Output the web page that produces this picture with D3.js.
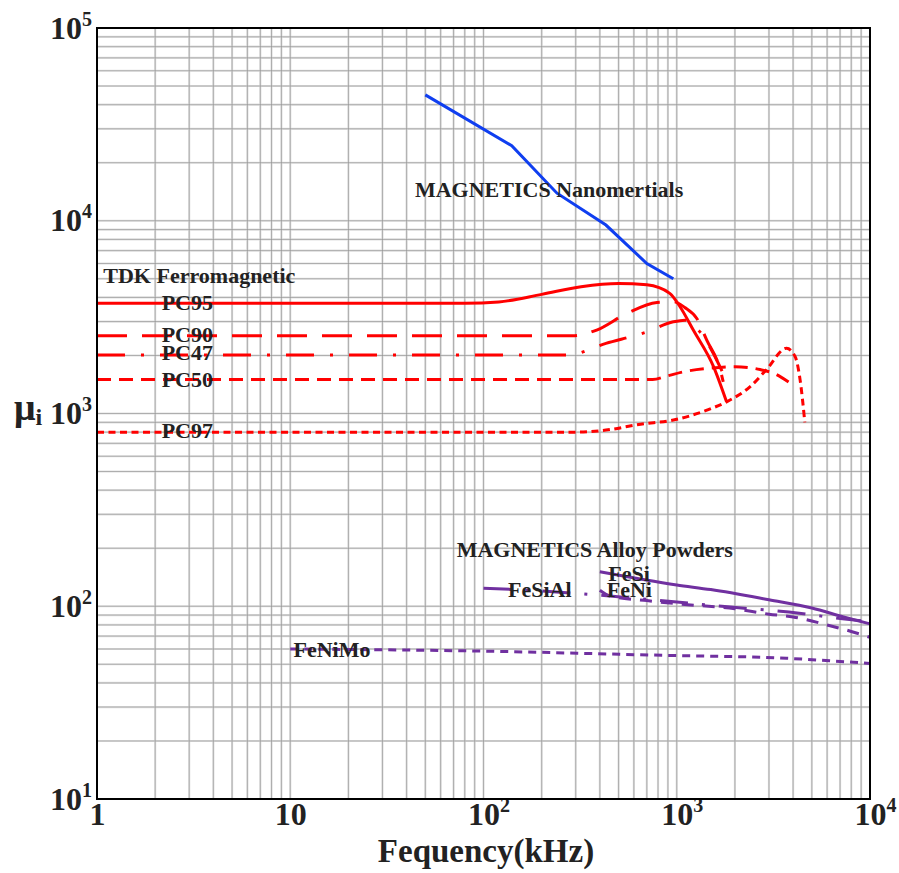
<!DOCTYPE html>
<html>
<head>
<meta charset="utf-8">
<script src="https://cdn.jsdelivr.net/npm/d3@7"></script>
<style>
body{margin:0;background:#fff;}
.gridHalo{stroke:#e0e0e0;stroke-width:2.2;}
.gridLine{stroke:#8c8c8c;stroke-width:0.6;}
.frame{fill:none;stroke:#000;stroke-width:2;}
.curve{fill:none;stroke-width:3;}
.label{font-family:"Liberation Serif","Times New Roman",serif;font-weight:bold;fill:#222;}
</style>
</head>
<body>
<script>
(function(){

//tick values of the two log axes
var xTicks = [1, 10, 100, 1000, 10000];
var yTicks = [10, 100, 1000, 10000, 100000];

//[frequency kHz, initial permeability]
var nanoMu = [[50,45000],[140,24500],[240,13900],[430,9500],[700,6000],[960,5000]];

//TDK ferrites
var pc95 = [[1,3730],[80,3730],[120,3790],[200,4150],[320,4550],[500,4730],[700,4650],[920,4200],[1040,3580],[1220,2700],[1550,1750],[1810,1150]];
var pc90 = [[1,2530],[290,2530],[385,2710],[550,3300],[790,3770],[960,3800],[1100,3550],[1270,3110],[1430,2400],[1680,1680],[1740,1460]];
var pc47 = [[1,2010],[270,2010],[430,2310],[700,2650],[960,2990],[1100,3050],[1250,2800],[1400,2450],[1550,2040],[1770,1550]];
var pc50 = [[1,1500],[750,1500],[900,1570],[1100,1650],[1500,1720],[2000,1750],[2700,1690],[3200,1610],[3850,1440]];
var pc97 = [[1,800],[290,800],[430,820],[650,880],[960,925],[1430,1040],[1810,1150],[2400,1380],[2900,1680],[3700,2180],[4100,1970],[4350,1490],[4600,900]];

//MAGNETICS alloy powders
var feSi = [[400,151],[1000,129],[1500,122],[3000,108],[5000,98],[7300,88],[10000,81]];
var feSiAl = [[100,124],[200,120],[360,115],[750,108],[1900,99],[4300,92],[7200,86],[9000,84]];
var feNi = [[400,121],[450,113],[700,107],[1000,103],[2000,97],[3000,91],[4000,88],[6000,80],[8000,74],[10000,69]];
var feNiMo = [[10,60],[100,58.5],[750,55.8],[3700,53.7],[10000,50.5]];

//annotation texts and the data point where each one starts
var labelTexts = ["MAGNETICS Nanomertials", "TDK Ferromagnetic", "PC95", "PC90", "PC47", "PC50", "PC97",
                  "MAGNETICS Alloy Powders", "FeSi", "FeSiAl", "FeNi", "FeNiMo"];
var labelAt = [[44.2,13280],[1.078,4775],[2.16,3444],[2.16,2358],[2.16,1895],[2.16,1377],[2.16,743],
               [72.6,180.7],[442,135.7],[134,112],[434,112],[10.4,54.3]];

window.onload = setChart();

function setChart(){
    //frame of the plot
    var width = 899,
        height = 873,
        plotLeft = 97,
        plotRight = 870,
        plotTop = 28,
        plotBottom = 799;

    var svg = d3.select("body")
        .append("svg")
        .attr("width", width)
        .attr("height", height);

    var x = d3.scaleLog()
        .domain([1, 10000])
        .range([plotLeft, plotRight]);
    var y = d3.scaleLog()
        .domain([10, 100000])
        .range([plotBottom, plotTop]);

    setGrid(svg, x, y);

    var line = d3.line()
        .x(function(d){ return x(d[0]); })
        .y(function(d){ return y(d[1]); })
        .curve(d3.curveMonotoneX);

    //blue nanocrystalline curve is a plain polyline
    svg.append("path")
        .datum(nanoMu)
        .attr("class", "curve")
        .attr("stroke", "#0f3ef0")
        .attr("d", line.curve(d3.curveLinear));
    line.curve(d3.curveMonotoneX);

    var curves = [
        {data: pc95, color: "#ff0000", dash: null},
        {data: pc90, color: "#ff0000", dash: "30,15"},
        {data: pc47, color: "#ff0000", dash: "28,16,3,16"},
        {data: pc50, color: "#ff0000", dash: "14,8"},
        {data: pc97, color: "#ff0000", dash: "7,4.5"},
        {data: feSi, color: "#7030a0", dash: null},
        {data: feSiAl, color: "#7030a0", dash: "28,14,3,14"},
        {data: feNi, color: "#7030a0", dash: "12,9"},
        {data: feNiMo, color: "#7030a0", dash: "8,6"}
    ];

    svg.selectAll(".series")
        .data(curves)
        .enter()
        .append("path")
        .attr("class", "curve series")
        .attr("stroke", function(d){ return d.color; })
        .attr("stroke-dasharray", function(d){ return d.dash; })
        .attr("d", function(d){ return line(d.data); });

    //annotations sit on top of the curves
    svg.selectAll(".note")
        .data(labelTexts)
        .enter()
        .append("text")
        .attr("class", "label note")
        .attr("font-size", 22)
        .attr("x", function(d, i){ return x(labelAt[i][0]); })
        .attr("y", function(d, i){ return y(labelAt[i][1]); })
        .text(function(d){ return d; });

    setAxes(svg, x, y, plotBottom, plotLeft);

    //plot border
    svg.append("rect")
        .attr("class", "frame")
        .attr("x", plotLeft)
        .attr("y", plotTop)
        .attr("width", plotRight - plotLeft)
        .attr("height", plotBottom - plotTop);
};

function setGrid(svg, x, y){
    //1..9 times every decade
    var xGrid = [], yGrid = [];
    for (var k=0; k<4; k++){
        for (var m=1; m<10; m++){
            if (k>0 || m>1) xGrid.push(m * Math.pow(10, k));
        }
    }
    for (var k=1; k<5; k++){
        for (var m=1; m<10; m++){
            if (k>1 || m>1) yGrid.push(m * Math.pow(10, k));
        }
    }
    ["gridHalo", "gridLine"].forEach(function(cls){
        svg.selectAll("." + cls + "X")
            .data(xGrid)
            .enter()
            .append("line")
            .attr("class", cls + " " + cls + "X")
            .attr("x1", function(d){ return x(d); })
            .attr("x2", function(d){ return x(d); })
            .attr("y1", y.range()[0])
            .attr("y2", y.range()[1]);
        svg.selectAll("." + cls + "Y")
            .data(yGrid)
            .enter()
            .append("line")
            .attr("class", cls + " " + cls + "Y")
            .attr("y1", function(d){ return y(d); })
            .attr("y2", function(d){ return y(d); })
            .attr("x1", x.range()[0])
            .attr("x2", x.range()[1]);
    });
};

//write 10^n as a base and a raised exponent
function powerLabel(text, d){
    var n = Math.round(Math.log10(d));
    text.text(null);
    if (n < 2){
        text.text(d);
        return;
    }
    text.append("tspan").text("10");
    text.append("tspan")
        .attr("font-size", 20)
        .attr("dy", -13)
        .text(n);
};

function setAxes(svg, x, y, plotBottom, plotLeft){
    var xAxis = d3.axisBottom(x)
        .tickValues(xTicks)
        .tickSize(0)
        .tickPadding(3);
    var gx = svg.append("g")
        .attr("transform", "translate(0," + plotBottom + ")")
        .call(xAxis);
    gx.select(".domain").remove();
    gx.selectAll("text")
        .attr("class", "label")
        .attr("font-size", 32)
        .attr("fill", "#222")
        .each(function(d){
            powerLabel(d3.select(this), d);
            if (d >= 100) d3.select(this).attr("dx", 5);
        });

    var yAxis = d3.axisLeft(y)
        .tickValues(yTicks)
        .tickSize(0)
        .tickPadding(5);
    var gy = svg.append("g")
        .attr("transform", "translate(" + plotLeft + ",0)")
        .call(yAxis);
    gy.select(".domain").remove();
    gy.selectAll("text")
        .attr("class", "label")
        .attr("font-size", 32)
        .attr("fill", "#222")
        .attr("dy", 10)
        .each(function(d){
            var t = d3.select(this);
            t.text(null);
            t.append("tspan").text("10");
            t.append("tspan")
                .attr("font-size", 20)
                .attr("dy", -13)
                .text(Math.round(Math.log10(d)));
        });

    //axis titles
    svg.append("text")
        .attr("class", "label")
        .attr("font-size", 33)
        .attr("text-anchor", "middle")
        .attr("x", 486)
        .attr("y", 862)
        .text("Fequency(kHz)");

    var yTitle = svg.append("text")
        .attr("class", "label")
        .attr("x", 14)
        .attr("y", 420);
    yTitle.append("tspan")
        .attr("font-size", 38)
        .text("\u03bc");
    yTitle.append("tspan")
        .attr("font-size", 24)
        .attr("dy", 5)
        .text("i");
};
})();
</script>
</body>
</html>
